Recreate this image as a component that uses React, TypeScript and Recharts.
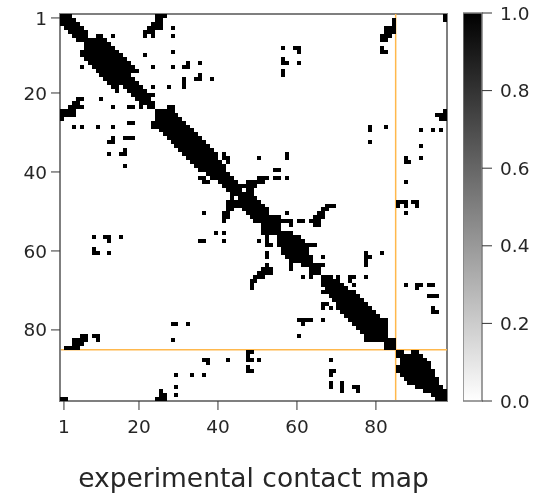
import { ScatterChart, Scatter, XAxis, YAxis, ReferenceLine, ReferenceArea, BarChart, Bar } from 'recharts'

// [row, first column, last column], upper triangle, mirrored below
const bandSpans = [
  [1,1,3],[2,2,4],[3,3,5],[4,4,6],[5,5,7],[6,6,7],[6,10,11],[7,7,12],[8,8,13],[9,9,14],[10,10,15],
  [11,11,16],[12,12,17],[13,13,18],[14,14,19],[15,15,20],[16,16,18],[17,17,19],[18,18,20],[19,19,21],[20,20,22],
  [21,21,24],[22,22,23],[23,23,24],[24,24,24],[24,28,29],[25,25,29],[26,26,30],[27,27,31],[28,28,32],[29,29,33],
  [30,30,34],[31,31,35],[32,32,36],[33,33,37],[34,34,38],[35,35,39],[36,36,40],[37,37,40],[38,38,41],[39,39,42],
  [40,40,42],[41,41,43],[42,42,44],[42,51,53],[43,43,45],[43,48,52],[44,44,50],[45,45,46],[45,48,49],[46,46,49],
  [47,47,50],[48,48,51],[49,49,52],[50,50,53],[51,51,53],[52,52,56],[53,53,59],[54,54,56],[54,59,59],[55,55,56],
  [56,56,59],[57,57,61],[58,58,62],[59,59,65],[60,60,63],[61,61,63],[62,62,64],[63,63,64],[64,64,67],[65,65,66],
  [66,66,66],[67,67,69],[67,71,71],[68,68,71],[69,69,72],[70,70,73],[71,71,75],[72,72,76],[73,73,77],[74,74,78],
  [75,75,79],[76,76,80],[77,77,81],[78,78,83],[79,79,83],[80,80,83],[81,81,83],[82,82,83],[83,83,85],[84,84,85],
  [85,85,85],[86,86,87],[86,90,91],[87,87,92],[88,88,93],[89,89,94],[90,90,94],[91,91,95],[92,92,95],[93,93,96],
  [94,94,96],[95,95,97],[96,96,98],[97,97,98],[98,98,98],
]

const contactSpans = [
  [1,25,27],[1,98,98],[2,25,26],[2,85,85],[2,98,98],[3,24,26],[3,85,85],[4,23,26],[4,29,29],[4,83,85],[5,22,24],[5,83,85],
  [6,22,22],[6,24,24],[6,14,14],[6,29,29],[6,82,84],[7,82,83],[9,57,57],[9,60,61],[9,82,82],[10,29,29],[10,61,61],[10,82,83],
  [11,22,22],[12,57,57],[13,33,33],[13,36,36],[13,57,58],[13,61,61],[14,24,24],[14,29,29],[14,32,33],[16,36,36],[16,57,57],
  [17,32,32],[17,35,36],[17,39,39],[18,32,32],[19,24,24],[19,28,28],[19,32,32],[25,98,98],[26,96,98],[27,97,98],
  [29,79,79],[29,83,83],[30,79,79],[30,92,92],[30,95,95],[30,97,97],[33,79,79],[34,92,92],[36,42,42],[36,58,58],
  [37,42,43],[37,51,51],[37,58,58],[37,88,88],[37,92,92],[38,43,43],[38,88,89],[40,56,56],[42,56,56],[42,58,58],[43,88,88],
  [48,86,88],[48,90,91],[49,68,70],[49,86,86],[49,88,88],[49,91,91],[50,67,68],[51,58,58],[51,66,67],[51,88,88],
  [52,65,67],[53,61,62],[53,64,66],[54,65,66],[61,78,78],[61,82,82],[62,67,67],[62,78,79],[63,78,78],[64,78,78],
  [67,74,75],[67,78,78],[68,74,74],[69,75,75],[69,88,88],[69,91,92],[69,94,95],[70,91,91],[72,94,96],[75,95,95],[76,95,96],
]

// [row, column] contacts seen on one side of the diagonal only
const oneSidedCells = [[24,18],[28,18],[15,57],[40,55],[42,55]]

const axisTicks = [1, 20, 40, 60, 80]
const colorbarTicks = [0, 0.2, 0.4, 0.6, 0.8, 1]
const colorbarData = [{ name: 'contact', value: 1 }]
const MARKER_POSITION = 85
const MATRIX_SIZE = 98

const FONT = '"DejaVu Sans"'
const INK = '#262626'
const FRAME = '#7f7f7f'

const seen = new Set<string>()
const cells: { x: number; y: number }[] = []
const addCell = (row: number, col: number) => {
  const key = `${row}-${col}`
  if (seen.has(key)) return
  seen.add(key)
  cells.push({ x: col - 0.5, y: row - 0.5 })
}
for (const [row, from, to] of [...bandSpans, ...contactSpans]) {
  for (let col = from; col <= to; col++) {
    addCell(row, col)
    addCell(col, row)
  }
}
for (const [row, col] of oneSidedCells) addCell(row, col)

const CellSquare = ({ cx, cy }: any) => (
  <rect x={cx - 2} y={cy - 2} width={4} height={4} fill="#000" shapeRendering="crispEdges" />
)

export default function App() {
  const tick = { fill: INK, fontSize: 18.5, fontFamily: FONT }
  return (
    <div style={{ position: 'absolute', left: 0, top: 0, width: 542, height: 499, background: '#fff', filter: 'blur(0.5px)' }}>
      <div style={{ position: 'absolute', left: 0, top: 0 }}>
        <ScatterChart width={460} height={499} margin={{ top: 14, right: 13, bottom: 0, left: 0 }}>
          <XAxis
            type="number"
            dataKey="x"
            domain={[0, MATRIX_SIZE]}
            ticks={axisTicks}
            interval={0}
            height={98}
            allowDataOverflow
            tick={tick}
            tickSize={9}
            tickMargin={10}
            tickLine={{ stroke: '#333' }}
            axisLine={{ stroke: FRAME, strokeWidth: 2 }}
            label={{ value: 'experimental contact map', position: 'insideBottom', offset: 12, fill: INK, fontSize: 26.5, fontFamily: FONT }}
          />
          <YAxis
            type="number"
            dataKey="y"
            reversed
            domain={[0, MATRIX_SIZE]}
            ticks={axisTicks}
            interval={0}
            width={60}
            allowDataOverflow
            tick={tick}
            tickSize={9}
            tickMargin={4}
            tickLine={{ stroke: '#333' }}
            axisLine={{ stroke: FRAME, strokeWidth: 2 }}
          />
          <Scatter data={cells} shape={CellSquare} isAnimationActive={false} />
          <ReferenceLine x={MARKER_POSITION} stroke="#ffb84d" strokeWidth={1.5} />
          <ReferenceLine y={MARKER_POSITION} stroke="#ffb84d" strokeWidth={1.5} />
          <ReferenceArea x1={0} x2={MATRIX_SIZE} y1={0} y2={MATRIX_SIZE} fill="none" stroke={FRAME} strokeWidth={2} />
        </ScatterChart>
      </div>
      <div style={{ position: 'absolute', left: 463, top: 0 }}>
        <BarChart width={79} height={499} data={colorbarData} barCategoryGap={0} margin={{ top: 13, right: 0, bottom: 98, left: 0 }}>
          <defs>
            <linearGradient id="grayRamp" x1="0" y1="0" x2="0" y2="1">
              <stop offset="0%" stopColor="#000" />
              <stop offset="100%" stopColor="#fff" />
            </linearGradient>
          </defs>
          <XAxis dataKey="name" hide />
          <YAxis
            orientation="right"
            type="number"
            domain={[0, 1]}
            ticks={colorbarTicks}
            interval={0}
            width={60}
            tick={tick}
            tickSize={10}
            tickMargin={8}
            tickLine={{ stroke: '#333' }}
            axisLine={false}
            tickFormatter={(v: number) => v.toFixed(1)}
          />
          <Bar dataKey="value" fill="url(#grayRamp)" stroke={FRAME} strokeWidth={1.5} isAnimationActive={false} />
        </BarChart>
      </div>
    </div>
  )
}
